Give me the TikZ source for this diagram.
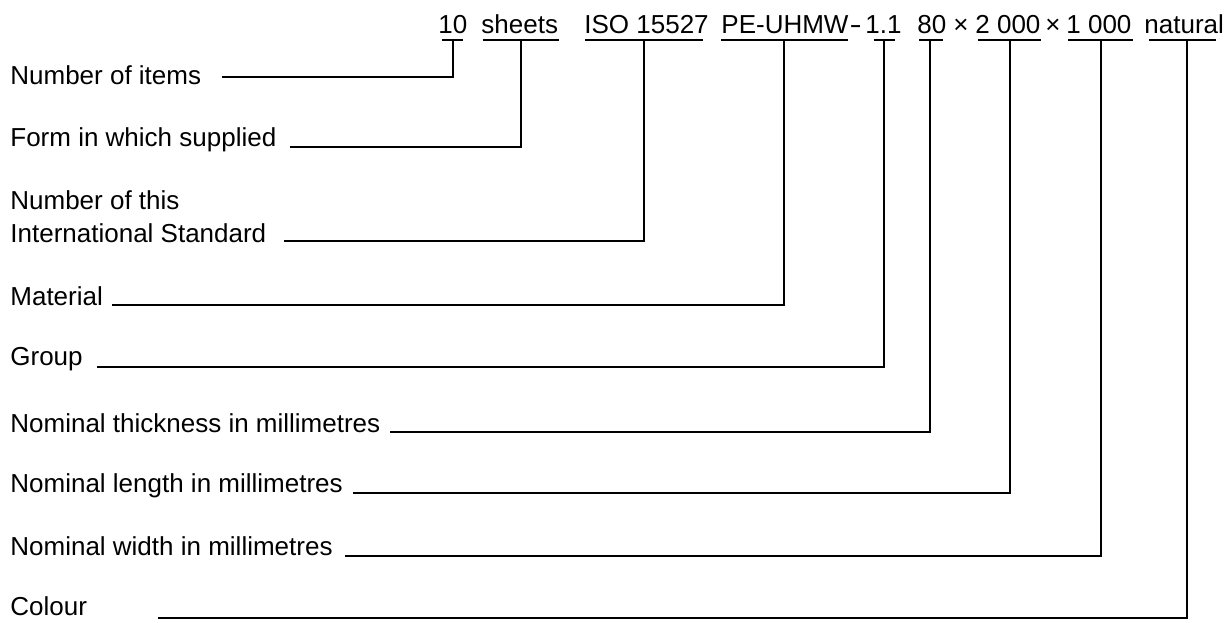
\documentclass[tikz,border=0pt]{standalone}
\usepackage{fontspec}
\setmainfont{Liberation Sans}
\begin{document}
\begin{tikzpicture}[x=0.5pt,y=-0.5pt,
  txt/.style={anchor=base west, inner sep=0pt, font=\fontsize{13pt}{15.6pt}\selectfont},
  lead/.style={line width=1pt, draw=black},
  uline/.style={line width=1pt, draw=black}]
\useasboundingbox (0,0) rectangle (1229,622);

% designation tokens
\node[txt] (t10)  at (438,33) {10};
\node[txt] (tsh)  at (481,33) {sheets};
\node[txt] (tiso) at (584,33) {ISO 15527};
\node[txt] (tpe)  at (721,33) {PE-UHMW};
\node[txt, xscale=1.4] (thy) at (849,33) {-};
\node[txt] (tgr)  at (865,33) {1.1};
\node[txt] (t80)  at (917,33) {80};
\node[txt] (tx1)  at (953,33) {×};
\node[txt] (t2k)  at (975,33) {2 000};
\node[txt] (tx2)  at (1045,33) {×};
\node[txt] (t1k)  at (1066,33) {1 000};
\node[txt] (tnat) at (1144,33) {natural};

% underline ends and tick points
\coordinate (a1) at (442,40);  \coordinate (b1) at (463,40);  \coordinate (u1) at (453,40);
\coordinate (a2) at (483,40);  \coordinate (b2) at (559,40);  \coordinate (u2) at (521,40);
\coordinate (a3) at (585,40);  \coordinate (b3) at (703,40);  \coordinate (u3) at (644,40);
\coordinate (a4) at (721,40);  \coordinate (b4) at (848,40);  \coordinate (u4) at (784,40);
\coordinate (a5) at (874,40);  \coordinate (b5) at (895,40);  \coordinate (u5) at (884,40);
\coordinate (a6) at (919,40);  \coordinate (b6) at (943,40);  \coordinate (u6) at (930,40);
\coordinate (a7) at (978,40);  \coordinate (b7) at (1041,40); \coordinate (u7) at (1010,40);
\coordinate (a8) at (1068,40); \coordinate (b8) at (1133,40); \coordinate (u8) at (1101,40);
\coordinate (a9) at (1149,40); \coordinate (b9) at (1216,40); \coordinate (u9) at (1187,40);

\foreach \i in {1,...,9} { \draw[uline] (a\i) -- (b\i); }

% labels
\node[txt] (l1)  at (10,84)  {Number of items};
\node[txt] (l2)  at (10,146) {Form in which supplied};
\node[txt] (l3a) at (10,209) {Number of this};
\node[txt] (l3b) at (10,242) {International Standard};
\node[txt] (l4)  at (10,305) {Material};
\node[txt] (l5)  at (10,365) {Group};
\node[txt] (l6)  at (10,432) {Nominal thickness in millimetres};
\node[txt] (l7)  at (10,492) {Nominal length in millimetres};
\node[txt] (l8)  at (10,555) {Nominal width in millimetres};
\node[txt] (l9)  at (10,615) {Colour};

% leader starts
\coordinate (s1) at (222,77);
\coordinate (s2) at (290,147);
\coordinate (s3) at (284,241);
\coordinate (s4) at (112,305);
\coordinate (s5) at (97,367);
\coordinate (s6) at (390,432);
\coordinate (s7) at (353,493);
\coordinate (s8) at (345,556);
\coordinate (s9) at (158,618);

\foreach \i in {1,...,9} { \draw[lead] (s\i) -| (u\i); }
\end{tikzpicture}
\end{document}
